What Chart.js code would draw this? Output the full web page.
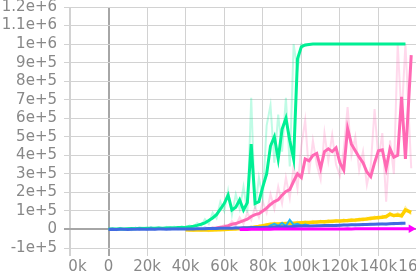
<!DOCTYPE html>
<html lang="en">
<head>
  <meta charset="UTF-8">
  <title>Reward curves</title>
  <script src="https://cdn.jsdelivr.net/npm/chart.js"></script>
  <style>
    html, body { margin: 0; padding: 0; background: #fff; }
    #wrap { width: 416px; height: 274px; overflow: hidden; }
    #inner { width: 422px; height: 274px; position: relative; }
  </style>
</head>
<body>
  <div id="wrap"><div id="inner"><canvas id="chart"></canvas></div></div>
  <script>
    // training steps (in thousands)
    const steps = [0,2,4,6,8,10,12,14,16,18,20,22,24,26,28,30,32,34,36,38,40,42,44,46,48,50,52,54,56,58,
      60,62,64,66,68,70,72,74,76,78,80,82,84,86,88,90,92,94,96,98,100,102,104,106,108,110,112,114,116,118,
      120,122,124,126,128,130,132,134,136,138,140,142,144,146,148,150,152,154,157];

    // values in thousands
    const greenSmooth = [2,3,2,4,3,4,5,4,6,5,6,7,6,8,7,8,9,8,10,11,12,14,17,22,28,36,48,62,80,110,
      140,185,105,120,160,105,145,460,140,150,230,300,450,500,380,540,600,480,380,920,985,995,998,1000,1000,1000,1000,1000,1000,1000,
      1000,1000,1000,1000,1000,1000,1000,1000,1000,1000,1000,1000,1000,1000,1000,1000,1000,1000,null];
    const greenRaw = [0,6,-2,8,1,7,2,9,3,10,2,12,4,13,3,14,5,15,6,18,8,22,12,35,20,55,30,90,60,150,
      100,210,80,190,110,230,90,710,110,280,170,560,670,360,620,420,710,340,1000,860,1000,990,1000,1000,1000,1000,1000,1000,1000,1000,
      1000,1000,1000,1000,1000,1000,1000,1000,1000,1000,1000,1000,1000,1000,1000,1000,1000,1000,null];
    const pinkSmooth = [null,null,null,null,null,null,null,null,null,null,null,null,null,null,null,null,null,null,null,null,null,null,null,null,null,2,4,6,8,12,
      15,20,28,32,40,48,55,70,80,85,100,115,135,150,160,185,205,215,260,300,280,380,370,400,410,330,420,435,420,440,
      360,320,545,460,425,390,360,310,285,360,425,430,330,435,390,400,715,380,940];
    const pinkRaw = [null,null,null,null,null,null,null,null,null,null,null,null,null,null,null,null,null,null,null,null,null,null,null,null,null,0,8,2,14,6,
      25,12,45,20,65,30,90,50,120,65,150,90,190,110,230,140,280,170,340,220,450,590,300,480,350,270,520,370,510,350,
      290,430,660,400,500,320,420,240,340,650,370,520,150,480,300,1000,600,1000,330];
    const yellowSmooth = [null,null,null,null,null,null,null,null,null,null,null,null,null,null,null,null,null,null,null,null,-2,-3,-2,-3,-2,-3,-2,-3,-2,-1,
      0,1,3,2,5,6,8,10,13,16,20,24,28,29,30,31,32,33,34,35,36,37,38,39,40,41,42,43,44,45,
      46,47,48,50,51,53,55,57,60,62,64,66,70,82,75,78,74,105,92];
    const yellowRaw = [null,null,null,null,null,null,null,null,null,null,null,null,null,null,null,null,null,null,null,null,-6,2,-8,1,-7,0,-9,2,-6,4,
      -5,6,-2,8,0,12,4,16,8,22,14,30,20,36,24,38,26,40,28,42,30,44,32,46,34,47,36,50,38,52,
      40,54,42,57,44,60,48,64,52,70,56,74,62,90,70,88,68,120,80];
    const blueSmooth = [0,1,0,1,1,0,1,1,2,1,1,2,1,2,2,1,2,2,3,2,3,3,3,4,4,4,5,5,5,6,
      6,7,7,8,8,9,9,10,10,11,11,12,12,13,14,14,15,15,16,17,18,18,19,19,20,20,21,21,22,22,
      23,24,24,25,25,26,27,27,28,28,29,30,30,31,32,32,33,34,null];
    const blueRaw = [0,6,-3,8,-2,5,-4,10,-1,7,-3,12,-2,6,0,9,-2,11,1,8,-1,13,2,9,0,12,3,10,2,14,
      3,12,4,15,5,14,6,16,7,16,8,17,9,18,10,19,11,20,12,21,14,22,15,23,16,24,17,25,18,26,
      19,27,20,28,21,29,22,30,23,31,24,32,25,33,26,34,27,38,null];
    const magenta = [null,null,null,null,null,null,null,null,null,null,null,null,null,null,null,null,null,null,null,null,null,null,null,null,null,null,null,null,null,null,
      null,null,null,null,0,1,0,1,1,1,1,2,1,2,2,2,2,2,2,2,3,2,3,3,3,3,3,3,3,3,
      3,3,4,3,4,4,4,4,4,4,4,4,4,4,4,4,4,4,4];
    const cyan = [null,null,null,null,null,null,null,null,null,null,null,null,null,null,null,null,null,null,null,null,null,null,null,null,null,null,null,null,null,null,
      null,null,null,null,null,5,8,6,12,10,14,9,22,30,20,35,18,52,25,30,20,26,22,null,null,null,null,null,null,null,
      null,null,null,null,null,null,null,null,null,null,null,null,null,null,null,null,null,null,null];

    const xTicks = [-20000, 0, 20000, 40000, 60000, 80000, 100000, 120000, 140000, 160000];

    function pts(vals) {
      return steps.map((s, i) => ({ x: s * 1000, y: vals[i] === null ? null : vals[i] * 1000 }));
    }

    function line(vals, color, width, order, extra) {
      return Object.assign({
        data: pts(vals),
        borderColor: color,
        backgroundColor: color,
        borderWidth: width,
        pointRadius: 0,
        tension: 0,
        spanGaps: false,
        order: order
      }, extra || {});
    }

    const magentaPoints = magenta.map((v, i) => i === magenta.length - 1 ? 5 : 0);

    // hides the part of the first x label that sits left of the plot
    const maskPlugin = {
      id: 'mask',
      afterDraw(chart) {
        const c = chart.ctx;
        const a = chart.chartArea;
        c.save();
        c.fillStyle = '#fff';
        c.fillRect(0, a.bottom + 10, a.left - 1, chart.height - a.bottom);
        c.restore();
      }
    };

    const gridColor = ctx => ctx.tick && ctx.tick.value === 0 ? '#a6a6a6' : '#d2d2d2';

    new Chart(document.getElementById('chart'), {
      type: 'line',
      data: {
        datasets: [
          line(greenRaw, 'rgba(0,240,150,0.25)', 2, 9),
          line(pinkRaw, 'rgba(255,105,180,0.25)', 2, 8),
          line(yellowRaw, 'rgba(255,210,0,0.35)', 2, 7),
          line(blueRaw, 'rgba(65,105,225,0.25)', 2, 6),
          line(pinkSmooth, '#ff69b4', 3, 5),
          line(greenSmooth, '#00ef94', 3, 4),
          line(yellowSmooth, '#ffd000', 3.5, 3),
          line(cyan, '#1eb4f0', 2, 2),
          line(blueSmooth, '#4169e1', 3, 1),
          line(magenta, '#ff00ff', 3, 0, {
            pointRadius: magentaPoints,
            pointStyle: 'triangle',
            rotation: 90,
            pointBorderWidth: 0
          })
        ]
      },
      options: {
        responsive: true,
        maintainAspectRatio: false,
        animation: false,
        layout: { padding: 0 },
        plugins: {
          legend: { display: false },
          tooltip: { enabled: false }
        },
        scales: {
          x: {
            type: 'linear',
            min: -20000,
            max: 160000,
            afterBuildTicks: s => { s.ticks = xTicks.map(v => ({ value: v })); },
            afterFit: s => { s.paddingLeft = 0; s.paddingRight = 0; s.height = 26; },
            border: { display: false },
            grid: {
              color: gridColor,
              lineWidth: ctx => ctx.tick && (ctx.tick.value === 0 || ctx.tick.value === -20000) ? 2 : 1,
              tickLength: 8
            },
            ticks: {
              autoSkip: false,
              maxRotation: 0,
              padding: 2,
              color: '#888',
              font: { family: 'DejaVu Sans', size: 15 },
              callback: v => v === 0 ? '0' : (v / 1000) + 'k'
            }
          },
          y: {
            min: -100000,
            max: 1200000,
            afterFit: s => { s.width = 70; s.paddingTop = 7; s.paddingBottom = 0; },
            border: { display: false },
            grid: {
              color: gridColor,
              lineWidth: ctx => ctx.tick && ctx.tick.value === 0 ? 2 : 1,
              tickLength: 6
            },
            ticks: {
              stepSize: 100000,
              autoSkip: false,
              padding: 7,
              color: '#888',
              font: { family: 'DejaVu Sans', size: 15 },
              callback: v => v === 0 ? '0' : Math.round(v).toExponential()
            }
          }
        }
      },
      plugins: [maskPlugin]
    });
  </script>
</body>
</html>
